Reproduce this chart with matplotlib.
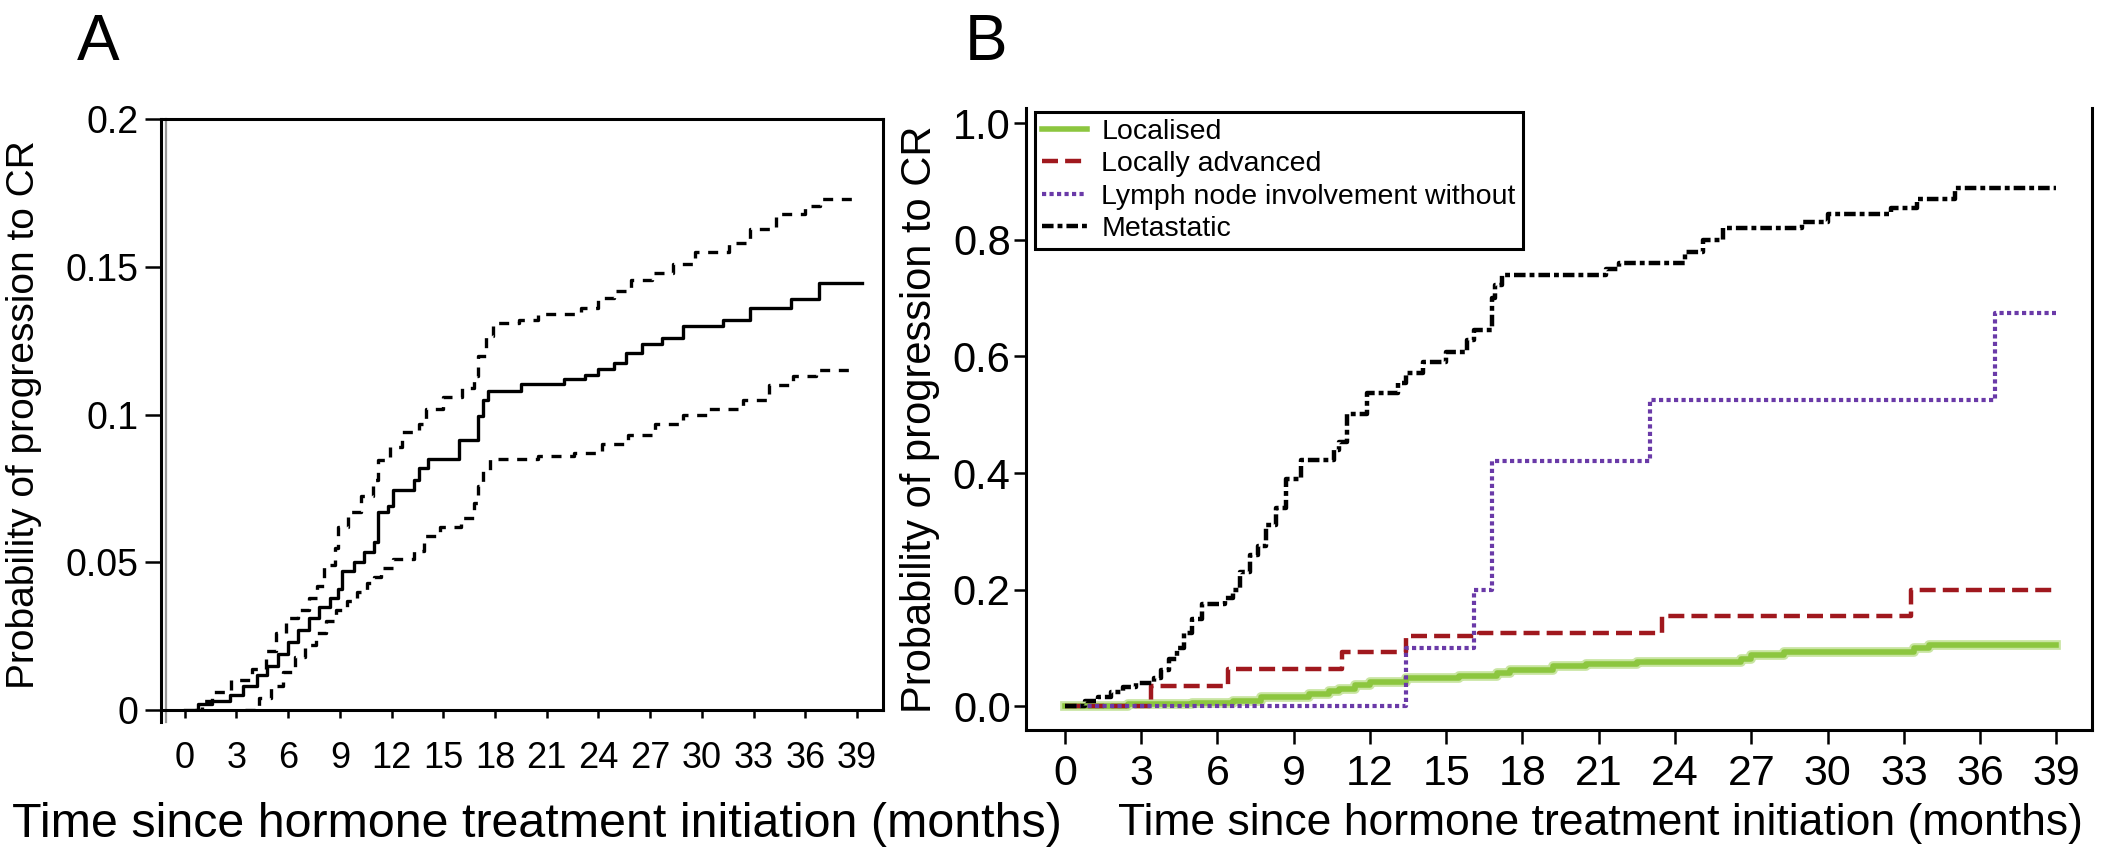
import matplotlib
matplotlib.use("Agg")
import matplotlib.pyplot as plt

# ---- panel A: overall cumulative incidence with 95% CI ----
a_t = [0, 0.8, 1.6, 2.6, 3.4, 4.2, 4.8, 5.4, 6.0, 6.6, 7.2, 7.8, 8.4, 8.9, 9.1, 9.8,
       10.4, 11.0, 11.2, 11.8, 12.1, 13.3, 13.6, 14.1, 15.9, 17.0, 17.3, 17.6, 19.5,
       22.0, 23.2, 24.0, 24.9, 25.6, 26.5, 27.7, 28.9, 31.2, 32.8, 35.2, 36.8, 39.3]
a_est = [0, 0.002, 0.003, 0.005, 0.008, 0.012, 0.015, 0.019, 0.023, 0.027, 0.031, 0.035,
         0.038, 0.041, 0.047, 0.050, 0.0535, 0.057, 0.067, 0.069, 0.0744, 0.078, 0.082,
         0.085, 0.0915, 0.0995, 0.105, 0.108, 0.1105, 0.112, 0.1135, 0.1155, 0.1175,
         0.121, 0.124, 0.126, 0.130, 0.132, 0.136, 0.139, 0.1445, 0.1445]

a_up_t = [0.6, 1.0, 1.6, 2.7, 3.9, 4.7, 5.3, 5.9, 6.6, 7.2, 7.7, 8.1, 8.7, 8.9, 9.5, 10.2,
          10.9, 11.2, 11.9, 12.6, 13.6, 14.0, 15.0, 16.1, 16.8, 17.0, 17.5, 17.9, 19.4,
          20.5, 23.0, 24.0, 24.9, 25.9, 27.1, 28.3, 29.6, 31.6, 32.8, 34.3, 36.0, 36.85,
          39.0]
a_up = [0, 0.003, 0.006, 0.010, 0.014, 0.020, 0.026, 0.031, 0.034, 0.038, 0.042, 0.049,
        0.055, 0.062, 0.067, 0.0726, 0.078, 0.0848, 0.089, 0.094, 0.097, 0.102, 0.106,
        0.109, 0.113, 0.120, 0.1265, 0.131, 0.132, 0.134, 0.136, 0.1395, 0.142, 0.1457,
        0.148, 0.151, 0.155, 0.158, 0.163, 0.168, 0.1705, 0.173, 0.173]

a_lo_t = [3.5, 4.3, 5.0, 5.7, 6.4, 7.0, 7.6, 8.2, 8.8, 9.4, 10.0, 10.6, 11.0, 11.4, 12.1,
          13.3, 13.9, 14.8, 16.0, 16.8, 17.0, 17.3, 17.7, 20.5, 22.6, 24.2, 25.7, 27.3,
          28.9, 30.4, 32.4, 33.9, 35.3, 36.6, 38.6]
a_lo = [0, 0.004, 0.008, 0.013, 0.018, 0.022, 0.026, 0.030, 0.034, 0.037, 0.040, 0.043,
        0.045, 0.048, 0.051, 0.054, 0.059, 0.062, 0.065, 0.070, 0.076, 0.081, 0.085,
        0.086, 0.087, 0.090, 0.093, 0.097, 0.100, 0.102, 0.105, 0.110, 0.113, 0.115, 0.115]

a_xticks = list(range(0, 40, 3))
a_yticks = [0, 0.05, 0.1, 0.15, 0.2]
a_yticklabels = ["0", "0.05", "0.1", "0.15", "0.2"]

# ---- panel B: by disease stage ----
loc_t = [0, 2.5, 5.0, 6.6, 7.7, 9.6, 10.4, 10.8, 11.4, 12.0, 13.4, 15.5, 17.0, 17.5,
         19.2, 20.5, 22.5, 26.6, 27.0, 28.3, 33.4, 34.0, 39.0]
loc_p = [0, 0.003, 0.006, 0.008, 0.015, 0.020, 0.026, 0.030, 0.037, 0.042, 0.048, 0.052,
         0.057, 0.062, 0.068, 0.072, 0.075, 0.080, 0.087, 0.092, 0.100, 0.104, 0.104]

adv_t = [0, 3.4, 6.4, 10.9, 13.4, 16.3, 23.5, 33.3, 39.0]
adv_p = [0, 0.035, 0.063, 0.093, 0.120, 0.125, 0.155, 0.200, 0.200]

lymph_t = [0, 13.4, 16.1, 16.8, 23.0, 36.6, 39.0]
lymph_p = [0, 0.100, 0.200, 0.420, 0.525, 0.675, 0.675]

met_t = [0, 0.8, 1.3, 1.8, 2.3, 2.8, 3.5, 3.8, 4.1, 4.4, 4.7, 5.0, 5.4, 6.3, 6.6, 6.9,
         7.3, 7.6, 7.9, 8.3, 8.7, 9.3, 10.6, 10.8, 11.1, 11.9, 13.1, 13.4, 14.1, 15.0,
         15.8, 16.1, 16.8, 16.9, 17.2, 21.3, 21.8, 24.4, 25.1, 25.9, 29.0, 30.0, 32.5,
         33.5, 35.0, 39.0]
met_p = [0, 0.008, 0.015, 0.025, 0.032, 0.040, 0.048, 0.062, 0.080, 0.100, 0.125, 0.150,
         0.175, 0.185, 0.200, 0.230, 0.260, 0.275, 0.310, 0.340, 0.390, 0.422, 0.440,
         0.453, 0.502, 0.537, 0.554, 0.571, 0.591, 0.608, 0.628, 0.645, 0.700, 0.723,
         0.740, 0.750, 0.760, 0.780, 0.800, 0.820, 0.830, 0.845, 0.855, 0.870, 0.890, 0.890]

b_labels = ["Localised", "Locally advanced", "Lymph node involvement without", "Metastatic"]
b_xticks = list(range(0, 40, 3))
b_yticks = [0.0, 0.2, 0.4, 0.6, 0.8, 1.0]

ylabel = "Probability of progression to CR"
xlabel = "Time since hormone treatment initiation (months)"

plt.rcParams["font.family"] = ["Liberation Sans", "DejaVu Sans"]

fig = plt.figure(figsize=(21.02, 8.48), dpi=100)

# ---------------- panel A ----------------
axA = fig.add_axes([0.0768, 0.1627, 0.4200 - 0.0768, 0.8593 - 0.1627])
axA.step(a_t, a_est, where="post", color="black", lw=2.4)
axA.step(a_up_t, a_up, where="post", color="black", lw=2.4, dashes=(3, 2.6))
axA.step(a_lo_t, a_lo, where="post", color="black", lw=2.4, dashes=(3, 2.6))
axA.set_xlim(-1.35, 40.5)
axA.set_ylim(0, 0.2)
axA.set_xticks(a_xticks)
axA.set_yticks(a_yticks)
axA.set_yticklabels(a_yticklabels)
for s in axA.spines.values():
    s.set_linewidth(2.2)
axA.spines["left"].set_bounds(-0.004, 0.2)
# thin grey companion line next to the left axis
axA.plot([0.006, 0.006], [-0.02, 1.0], transform=axA.transAxes, color="0.6",
         lw=1.6, clip_on=False)
axA.tick_params(axis="x", direction="out", length=6, width=1.8, pad=16, labelsize=26)
axA.tick_params(axis="y", direction="out", length=11.5, width=1.8, pad=5, labelsize=27)
axA.set_ylabel(ylabel, fontsize=28)
axA.yaxis.set_label_coords(-0.166, 0.5)
axA.set_xlabel(xlabel, fontsize=34.8)
axA.xaxis.set_label_coords(0.52, -0.155)

# ---------------- panel B ----------------
axB = fig.add_axes([0.4881, 0.1392, 0.9952 - 0.4881, 0.8723 - 0.1392])
axB.step(loc_t, loc_p, where="post", color="#c9e5a2", lw=7)
axB.step(loc_t, loc_p, where="post", color="#8cc63f", lw=4, label=b_labels[0])
axB.step(adv_t, adv_p, where="post", color="#a0181e", lw=3.2, dashes=(3.6, 1.6),
         label=b_labels[1])
axB.step(lymph_t, lymph_p, where="post", color="#6a3aa8", lw=3.0, dashes=(1.0, 0.8),
         label=b_labels[2])
axB.step(met_t, met_p, where="post", color="black", lw=3.2, dashes=(2.6, 0.9, 1.1, 0.9),
         label=b_labels[3])
axB.set_xlim(-1.53, 40.4)
axB.set_ylim(-0.041, 1.026)
axB.set_xticks(b_xticks)
axB.set_yticks(b_yticks)
axB.set_yticklabels([f"{v:.1f}" for v in b_yticks])
axB.spines["top"].set_visible(False)
for s in ["left", "right", "bottom"]:
    axB.spines[s].set_linewidth(2.2)
axB.tick_params(axis="x", direction="out", length=10, width=1.8, pad=7, labelsize=31)
axB.tick_params(axis="y", direction="out", length=9, width=1.8, pad=2, labelsize=30)
axB.set_ylabel(ylabel, fontsize=30)
axB.yaxis.set_label_coords(-0.081, 0.5)
axB.set_xlabel(xlabel, fontsize=32)
axB.xaxis.set_label_coords(0.539, -0.117)

handles, labels = axB.get_legend_handles_labels()
leg = axB.legend(handles, labels, loc="upper left", bbox_to_anchor=(0.008, 0.994),
                 fontsize=20.5, frameon=True, fancybox=False, framealpha=1,
                 edgecolor="black", borderpad=0.25, labelspacing=0.22,
                 handlelength=1.6, handletextpad=0.5, borderaxespad=0)
leg.get_frame().set_linewidth(2.2)

fig.text(0.0366, 0.929, "A", fontsize=46, va="baseline")
fig.text(0.459, 0.929, "B", fontsize=46, va="baseline")

fig.savefig("out.png", dpi=100)
